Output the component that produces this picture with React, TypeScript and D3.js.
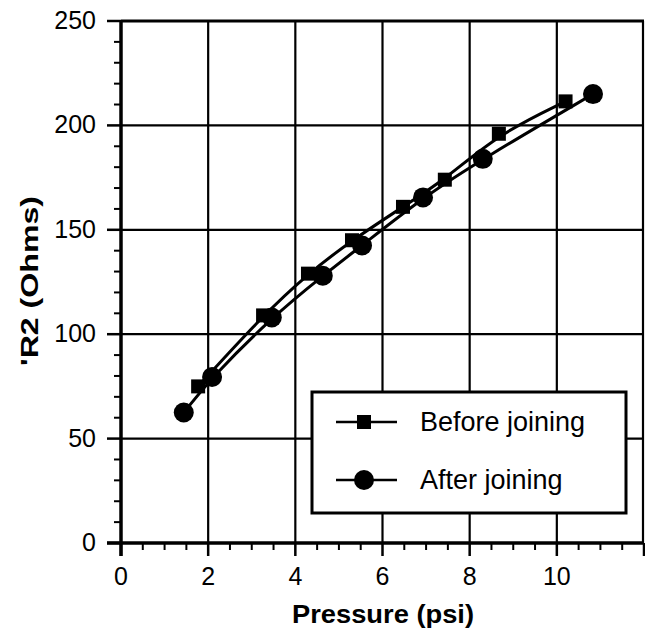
import React, { useEffect, useRef } from "react";
import * as d3 from "d3";

// Before joining (squares)
const beforeX = [1.77, 3.26, 4.29, 5.3, 6.47, 7.43, 8.67, 10.2];
const beforeY = [75, 109, 129, 145, 161, 174, 196, 211.5];
// After joining (circles)
const afterX = [1.44, 2.09, 3.46, 4.63, 5.53, 6.93, 8.3, 10.83];
const afterY = [62.5, 79.5, 108, 128, 142.5, 165.5, 184, 215];

const xTicks = [0, 2, 4, 6, 8, 10];
const yTicks = [0, 50, 100, 150, 200, 250];
const legendLabels = ["Before joining", "After joining"];

const App = () => {
  const ref = useRef<SVGSVGElement>(null);

  useEffect(() => {
    const svg = d3.select(ref.current);
    svg.selectAll("*").remove();

    const x = d3.scaleLinear().domain([0, 12]).range([121, 644]);
    const y = d3.scaleLinear().domain([0, 250]).range([543, 21]);
    const font = "'Liberation Sans', Arial, Helvetica, sans-serif";

    // grid
    const grid = svg.append("g").attr("stroke", "#000").attr("stroke-width", 2.2);
    [2, 4, 6, 8, 10].forEach((v) => {
      grid.append("line").attr("x1", x(v)).attr("x2", x(v)).attr("y1", y(0)).attr("y2", y(250));
    });
    [50, 100, 150, 200].forEach((v) => {
      grid.append("line").attr("x1", x(0)).attr("x2", x(12)).attr("y1", y(v)).attr("y2", y(v));
    });
    // top and right border
    grid.append("line").attr("x1", x(0)).attr("x2", x(12)).attr("y1", y(250)).attr("y2", y(250)).attr("stroke-width", 3);
    grid.append("line").attr("x1", x(12) - 1).attr("x2", x(12) - 1).attr("y1", y(0)).attr("y2", y(250));

    // minor ticks
    const ax = svg.append("g").attr("stroke", "#000");
    d3.range(0, 251, 10).forEach((v) => {
      const major = v % 50 === 0;
      ax.append("line")
        .attr("x1", x(0) - (major ? 14 : 7)).attr("x2", x(0))
        .attr("y1", y(v)).attr("y2", y(v))
        .attr("stroke-width", major ? 2.5 : 2);
    });
    d3.range(0, 12.01, 0.5).forEach((v) => {
      const major = v % 2 === 0;
      ax.append("line")
        .attr("x1", x(v)).attr("x2", x(v))
        .attr("y1", y(0)).attr("y2", y(0) + (major ? 13 : 7))
        .attr("stroke-width", major ? 2.5 : 2);
    });
    // axis lines
    ax.append("line").attr("x1", x(0) - 14).attr("x2", x(12)).attr("y1", y(0)).attr("y2", y(0)).attr("stroke-width", 3.5);
    ax.append("line").attr("x1", x(0)).attr("x2", x(0)).attr("y1", y(250)).attr("y2", y(0) + 13).attr("stroke-width", 3.5);

    // tick labels
    svg.append("g")
      .selectAll("text")
      .data(yTicks)
      .join("text")
      .attr("x", 96)
      .attr("y", (d) => y(d) + 8)
      .attr("text-anchor", "end")
      .attr("font-family", font)
      .attr("font-size", 25)
      .text((d) => d);
    svg.append("g")
      .selectAll("text")
      .data(xTicks)
      .join("text")
      .attr("x", (d) => x(d))
      .attr("y", 585)
      .attr("text-anchor", "middle")
      .attr("font-family", font)
      .attr("font-size", 25)
      .text((d) => d);

    // axis titles
    svg.append("text")
      .attr("x", 383)
      .attr("y", 623)
      .attr("text-anchor", "middle")
      .attr("font-family", font)
      .attr("font-weight", "bold")
      .attr("font-size", 25)
      .attr("textLength", 182)
      .attr("lengthAdjust", "spacingAndGlyphs")
      .text("Pressure (psi)");
    svg.append("text")
      .attr("transform", "translate(38,281) rotate(-90)")
      .attr("text-anchor", "middle")
      .attr("font-family", font)
      .attr("font-weight", "bold")
      .attr("font-size", 23)
      .attr("textLength", 170)
      .attr("lengthAdjust", "spacingAndGlyphs")
      .text("'R2 (Ohms)");

    // curves
    const line = d3.line<[number, number]>()
      .x((d) => x(d[0]))
      .y((d) => y(d[1]))
      .curve(d3.curveBasis);
    const before = beforeX.map((v, i) => [v, beforeY[i]] as [number, number]);
    const after = afterX.map((v, i) => [v, afterY[i]] as [number, number]);

    svg.append("path").datum(before).attr("d", line).attr("fill", "none").attr("stroke", "#000").attr("stroke-width", 3);
    svg.append("path").datum(after).attr("d", line).attr("fill", "none").attr("stroke", "#000").attr("stroke-width", 3);

    svg.append("g")
      .selectAll("rect")
      .data(before)
      .join("rect")
      .attr("x", (d) => x(d[0]) - 7)
      .attr("y", (d) => y(d[1]) - 7)
      .attr("width", 14)
      .attr("height", 14)
      .attr("fill", "#000");
    svg.append("g")
      .selectAll("circle")
      .data(after)
      .join("circle")
      .attr("cx", (d) => x(d[0]))
      .attr("cy", (d) => y(d[1]))
      .attr("r", 10)
      .attr("fill", "#000");

    // legend
    const lg = svg.append("g");
    lg.append("rect")
      .attr("x", 312).attr("y", 392).attr("width", 314).attr("height", 121)
      .attr("fill", "#fff").attr("stroke", "#000").attr("stroke-width", 3);
    legendLabels.forEach((label, i) => {
      const cy = 422 + i * 58;
      lg.append("line").attr("x1", 336).attr("x2", 397).attr("y1", cy).attr("y2", cy).attr("stroke", "#000").attr("stroke-width", 2.5);
      if (i === 0) {
        lg.append("rect").attr("x", 357).attr("y", cy - 7).attr("width", 14).attr("height", 14).attr("fill", "#000");
      } else {
        lg.append("circle").attr("cx", 364).attr("cy", cy).attr("r", 10).attr("fill", "#000");
      }
      lg.append("text")
        .attr("x", 420)
        .attr("y", cy + 9)
        .attr("font-family", font)
        .attr("font-size", 27)
        .text(label);
    });
  }, []);

  return (
    <svg
      ref={ref}
      width={645}
      height={628}
      style={{ position: "absolute", left: 0, top: 0, background: "#fff" }}
    />
  );
};

export default App;
